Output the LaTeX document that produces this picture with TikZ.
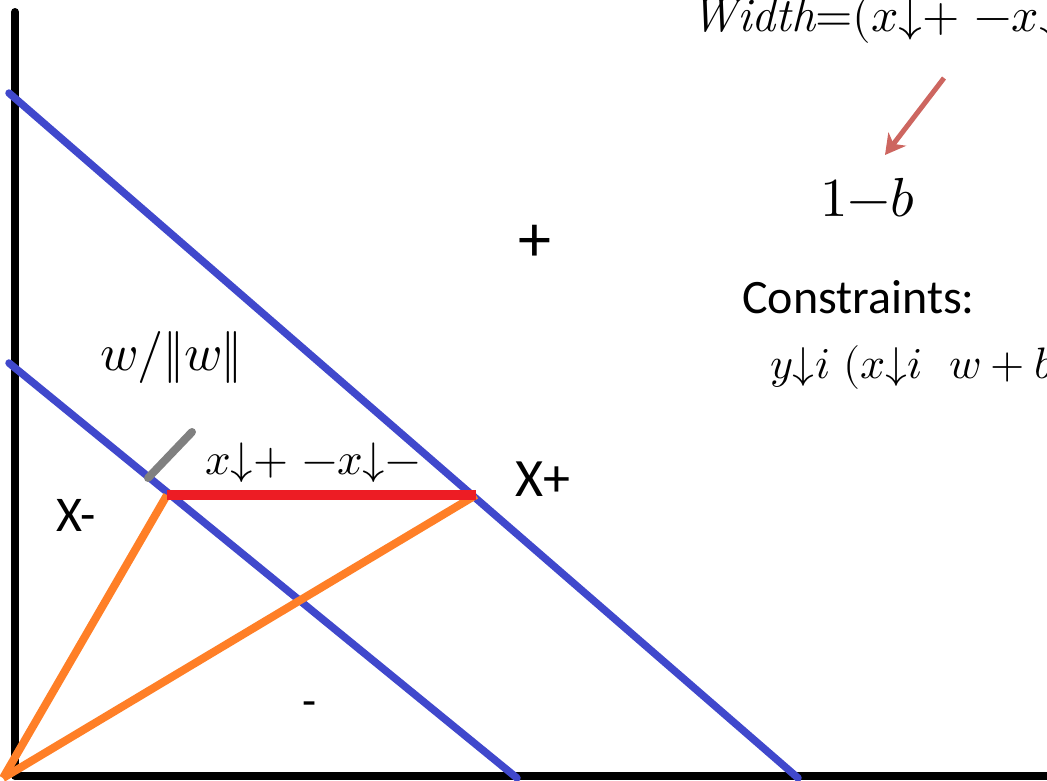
\documentclass[tikz,border=0pt]{standalone}
\usepackage{fontspec}
\usepackage{unicode-math}
\setmathfont{Latin Modern Math}
\setsansfont{Carlito}
\usetikzlibrary{arrows.meta}
\definecolor{svmblue}{RGB}{64,72,204}
\definecolor{svmred}{RGB}{237,28,36}
\definecolor{svmorange}{RGB}{255,127,39}
\definecolor{svmgray}{RGB}{128,128,128}
\definecolor{svmarrow}{RGB}{205,102,96}
\tikzset{
  axisline/.style={line width=8pt, black, line cap=round},
  bluel/.style={line width=7.5pt, svmblue, line cap=round},
  redl/.style={line width=10pt, svmred, line cap=round},
  orangel/.style={line width=8pt, svmorange},
  grayl/.style={line width=8pt, svmgray, line cap=round},
  sanslabel/.style={inner sep=0pt, font=\sffamily\fontsize{#1}{#1}\selectfont},
  mathlabel/.style={inner sep=0pt, anchor=base west, font=\fontsize{#1}{#1}\selectfont},
}
\begin{document}
\begin{tikzpicture}[x=1pt,y=-1pt]
\useasboundingbox (0,0) rectangle (1047,780);
\clip (0,0) rectangle (1047,780);
% points
\coordinate (top) at (15,12);
\coordinate (origin) at (15,776);
\coordinate (right) at (1060,776);
\coordinate (o) at (3,778);
\coordinate (b1s) at (9,93);
\coordinate (b1e) at (798,778);
\coordinate (b2s) at (9,363);
\coordinate (b2e) at (517,778);
\coordinate (xm) at (167,495);
\coordinate (xp) at (476,495);
\coordinate (g1) at (148,478);
\coordinate (g2) at (192,432);
\coordinate (a1) at (944,78);
\coordinate (a2) at (885,155);
% axes
\draw[axisline] (top) -- (origin);
\draw[axisline, line cap=butt] (origin) -- (right);
% hyperplanes
\draw[bluel] (b1s) -- (b1e);
\draw[bluel] (b2s) -- (b2e);
% vectors
\draw[orangel] (o) -- (xm);
\draw[orangel] (o) -- (xp);
\draw[redl, line cap=butt] (xm) -- (xp);
\draw[grayl] (g1) -- (g2);
% arrow
\draw[line width=5pt, svmarrow, -{Stealth[length=20pt,width=22pt,inset=6pt]}] (a1) -- (a2);
% labels
\node[sanslabel=50] (lxm) at (76,515) {X-};
\node[sanslabel=54] (lxp) at (543,479) {X+};
\node[sanslabel=66] (lplus) at (535,243) {+};
\node[sanslabel=46] (lminus) at (310,709) {-};
\node[sanslabel=48, anchor=base west] (lcons) at (742,313) {Constraints:};
\node[mathlabel=52] (lw) at (100,370) {$w/\|w\|$};
\node[mathlabel=45] (ldiff) at (205,474) {$x{\downarrow}{+}\ {-}x{\downarrow}{-}$};
\node[mathlabel=48] (lwidth) at (690,31) {$\mathit{Width}{=}(x{\downarrow}{+}\ {-}x{\downarrow}{-})$};
\node[mathlabel=55] (lb) at (820,216) {$1{-}b$};
\node[mathlabel=44] (ly) at (770,378) {$y{\downarrow}i\ (x{\downarrow}i\ \ w+b)$};
\end{tikzpicture}
\end{document}
